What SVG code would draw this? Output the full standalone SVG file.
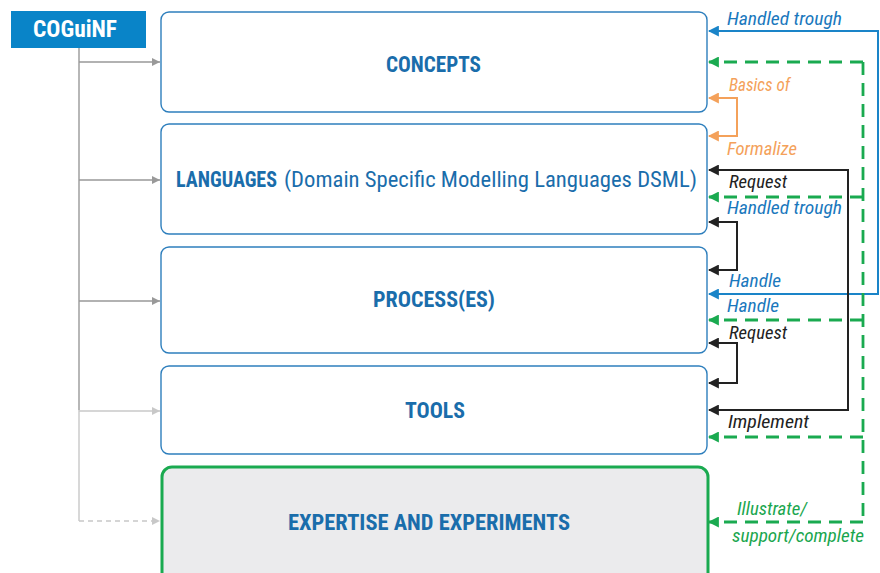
<svg xmlns="http://www.w3.org/2000/svg" width="880" height="573" viewBox="0 0 880 573">
<style>
.box{fill:#fff;stroke:#2e7fbd;stroke-width:1.4}
.lbl{font-family:"Liberation Sans Narrow","Roboto Condensed","Liberation Sans",sans-serif;font-weight:bold;font-size:22px;fill:#1a6dab}
.lblr{font-weight:normal}
.it{font-family:"Liberation Sans Narrow","Roboto Condensed","Liberation Sans",sans-serif;font-style:italic;font-size:18px}
.blue{fill:#1a78bd}.orange{fill:#f4a15a}.black{fill:#222}.green{fill:#1aa64e}
.cb{fill:none;stroke:#1a84c8;stroke-width:2}
.co{fill:none;stroke:#f4a15a;stroke-width:2}
.ck{fill:none;stroke:#222;stroke-width:2}
.cg{fill:none;stroke:#1aaa50;stroke-width:2.8;stroke-dasharray:13 8}
.tree{fill:none;stroke:#999;stroke-width:1.4}
.treel{fill:none;stroke:#c8c8c8;stroke-width:1.4}
</style>
<defs>
<marker id="mb" viewBox="0 0 10 10" refX="9" refY="5" markerWidth="11" markerHeight="11" markerUnits="userSpaceOnUse" orient="auto-start-reverse"><path d="M0,0L10,5L0,10z" fill="#1a84c8"/></marker>
<marker id="mo" viewBox="0 0 10 10" refX="9" refY="5" markerWidth="11" markerHeight="11" markerUnits="userSpaceOnUse" orient="auto-start-reverse"><path d="M0,0L10,5L0,10z" fill="#f4a15a"/></marker>
<marker id="mk" viewBox="0 0 10 10" refX="9" refY="5" markerWidth="11" markerHeight="11" markerUnits="userSpaceOnUse" orient="auto-start-reverse"><path d="M0,0L10,5L0,10z" fill="#222"/></marker>
<marker id="mg" viewBox="0 0 10 10" refX="9" refY="5" markerWidth="11" markerHeight="11" markerUnits="userSpaceOnUse" orient="auto"><path d="M0,0L10,5L0,10z" fill="#1aaa50"/></marker>
<marker id="mt" viewBox="0 0 10 10" refX="10" refY="5" markerWidth="8" markerHeight="8" markerUnits="userSpaceOnUse" orient="auto"><path d="M0,0L10,5L0,10z" fill="#999"/></marker>
<marker id="mtl" viewBox="0 0 10 10" refX="10" refY="5" markerWidth="8" markerHeight="8" markerUnits="userSpaceOnUse" orient="auto"><path d="M0,0L10,5L0,10z" fill="#c8c8c8"/></marker>
</defs>
<rect width="880" height="573" fill="#fff"/>

<g id="connectors">
<path class="tree" d="M79,48V410"/>
<path class="treel" d="M79,410V521"/>
<path class="tree" d="M79,62H160" marker-end="url(#mt)"/>
<path class="tree" d="M79,180H160" marker-end="url(#mt)"/>
<path class="tree" d="M79,301H160" marker-end="url(#mt)"/>
<path class="treel" d="M79,411H160" marker-end="url(#mtl)"/>
<path class="treel" d="M79,521H160" stroke-dasharray="5 4" marker-end="url(#mtl)"/>

<path class="cb" d="M709,31H878V294H709" marker-start="url(#mb)" marker-end="url(#mb)"/>
<path class="co" d="M709,98H737V136H709" marker-start="url(#mo)" marker-end="url(#mo)"/>
<path class="ck" d="M709,170H848V410H709" marker-start="url(#mk)" marker-end="url(#mk)"/>
<path class="ck" d="M709,222H737V270H709" marker-start="url(#mk)" marker-end="url(#mk)"/>
<path class="ck" d="M709,343H737V383H709" marker-start="url(#mk)" marker-end="url(#mk)"/>

<path class="cg" d="M863,62V522"/>
<path class="cg" d="M863,62H709" marker-end="url(#mg)"/>
<path class="cg" d="M863,197H709" marker-end="url(#mg)"/>
<path class="cg" d="M863,320H709" marker-end="url(#mg)"/>
<path class="cg" d="M863,437H709" marker-end="url(#mg)"/>
<path class="cg" d="M863,522H709" marker-end="url(#mg)"/>

<text class="it blue" x="727" y="25" textLength="115" lengthAdjust="spacingAndGlyphs">Handled trough</text>
<text class="it orange" x="729" y="91" textLength="61" lengthAdjust="spacingAndGlyphs">Basics of</text>
<text class="it orange" x="727" y="155" textLength="70" lengthAdjust="spacingAndGlyphs">Formalize</text>
<text class="it black" x="729" y="188" textLength="58" lengthAdjust="spacingAndGlyphs">Request</text>
<text class="it blue" x="727" y="214" textLength="115" lengthAdjust="spacingAndGlyphs">Handled trough</text>
<text class="it blue" x="729" y="287" textLength="52" lengthAdjust="spacingAndGlyphs">Handle</text>
<text class="it blue" x="727" y="312" textLength="52" lengthAdjust="spacingAndGlyphs">Handle</text>
<text class="it black" x="729" y="339" textLength="58" lengthAdjust="spacingAndGlyphs">Request</text>
<text class="it black" x="728" y="428" textLength="81" lengthAdjust="spacingAndGlyphs">Implement</text>
<text class="it green" x="737" y="515" textLength="70" lengthAdjust="spacingAndGlyphs">Illustrate/</text>
<text class="it green" x="732" y="542" textLength="132" lengthAdjust="spacingAndGlyphs">support/complete</text>
</g>

<g id="coguinf">
<rect x="11" y="11" width="135" height="37" fill="#0984c8"/>
<text x="33" y="37" font-family="'Liberation Sans Narrow','Roboto Condensed','Liberation Sans',sans-serif" font-weight="bold" font-size="23" fill="#fff" textLength="84" lengthAdjust="spacingAndGlyphs">COGuiNF</text>
</g>

<g id="concepts">
<rect class="box" x="161" y="12" width="546" height="100" rx="8"/>
<text class="lbl" x="386" y="72" textLength="95" lengthAdjust="spacingAndGlyphs">CONCEPTS</text>
</g>

<g id="languages">
<rect class="box" x="161" y="124" width="546" height="110" rx="8"/>
<text class="lbl" x="176" y="187" textLength="101" lengthAdjust="spacingAndGlyphs">LANGUAGES</text>
<text class="lbl lblr" x="284" y="187" textLength="413" lengthAdjust="spacingAndGlyphs">(Domain Specific Modelling Languages DSML)</text>
</g>

<g id="process">
<rect class="box" x="161" y="247" width="546" height="106" rx="8"/>
<text class="lbl" x="373" y="307" textLength="122" lengthAdjust="spacingAndGlyphs">PROCESS(ES)</text>
</g>

<g id="tools">
<rect class="box" x="161" y="366" width="546" height="88" rx="8"/>
<text class="lbl" x="405" y="418" textLength="60" lengthAdjust="spacingAndGlyphs">TOOLS</text>
</g>

<g id="expertise">
<rect x="162" y="467" width="546" height="120" rx="10" fill="#ebebed" stroke="#1aaa50" stroke-width="3"/>
<text class="lbl" x="288" y="530" textLength="282" lengthAdjust="spacingAndGlyphs">EXPERTISE AND EXPERIMENTS</text>
</g>
</svg>
